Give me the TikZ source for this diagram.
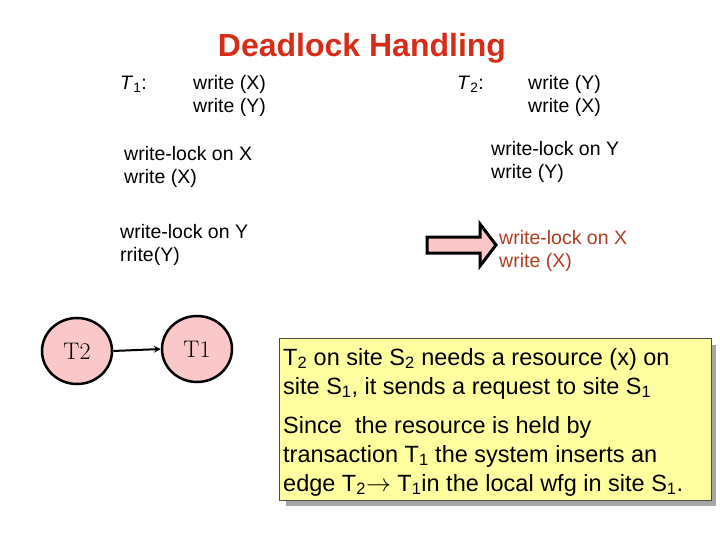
\documentclass[tikz,border=0pt]{standalone}
\usepackage{fontspec}
\setmainfont{Liberation Sans}
\usetikzlibrary{shapes,arrows,positioning}
\definecolor{titlered}{RGB}{214,44,24}
\definecolor{lockred}{RGB}{178,60,30}
\definecolor{nodepink}{RGB}{250,200,200}
\definecolor{noteyellow}{RGB}{255,255,160}
\tikzset{
  txt/.style={anchor=west,inner sep=0pt,font=\fontsize{19.5}{22}\selectfont},
  tnode/.style={ellipse,draw,line width=2.5pt,fill=nodepink,minimum width=70pt,minimum height=66pt,font=\fontfamily{lmr}\fontsize{24}{26}\selectfont},
  note/.style={anchor=west,inner sep=0pt,font=\fontsize{23.5}{26}\selectfont}
}
\begin{document}
\begin{tikzpicture}[x=1pt,y=-1pt]
\useasboundingbox (0,0) rectangle (720,540);

% title
\node [font=\bfseries\fontsize{32}{34}\selectfont,text=titlered] (title) at (362,48) {Deadlock Handling};

% site 1
\node [txt] (t1) at (120,84) {\textit{T}\textsubscript{1}:};
\node [txt] (t1w1) at (193,84) {write (X)};
\node [txt] (t1w2) at (193,107) {write (Y)};
\node [txt] (lx1) at (124,154) {write-lock on X};
\node [txt] (wx1) at (124,178) {write (X)};
\node [txt] (ly1) at (120,232) {write-lock on Y};
\node [txt] (wy1) at (120,256) {rrite(Y)};

% site 2
\node [txt] (t2) at (457,84) {\textit{T}\textsubscript{2}:};
\node [txt] (t2w1) at (528,84) {write (Y)};
\node [txt] (t2w2) at (528,107) {write (X)};
\node [txt] (ly2) at (491,149) {write-lock on Y};
\node [txt] (wy2) at (491,173) {write (Y)};
\node [txt,text=lockred] (lx2) at (499,238) {write-lock on X};
\node [txt,text=lockred] (wx2) at (499,262) {write (X)};

% block arrow
\draw [line width=3pt,fill=nodepink,line join=miter]
  (427,237) -- (480,237) -- (480,224) -- (496,245) -- (480,266) -- (480,253) -- (427,253) -- cycle;

% wait-for graph
\node [tnode] (T2) at (77,351) {T2};
\node [tnode] (T1) at (197,349) {T1};
\draw [->,>=stealth,line width=2pt] (T2.east) -- (T1.west);

% note
\fill [gray!70] (286,345) rectangle (716,506);
\draw [fill=noteyellow,draw=gray!60!black] (279,338) rectangle (711,500);
\node [note] (n1) at (283,359) {T\textsubscript{2} on site S\textsubscript{2} needs a resource (x) on};
\node [note] (n2) at (283,388) {site S\textsubscript{1}, it sends a request to site S\textsubscript{1}};
\node [note] (n3) at (283,427) {Since\ \ the resource is held by};
\node [note] (n4) at (283,456) {transaction T\textsubscript{1} the system inserts an};
\node [note] (n5) at (283,485) {edge T\textsubscript{2}$\rightarrow$ T\textsubscript{1}in the local wfg in site S\textsubscript{1}.};
\end{tikzpicture}
\end{document}
